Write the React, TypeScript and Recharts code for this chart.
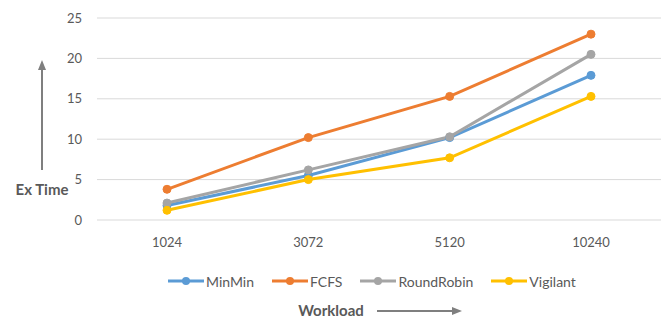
import { CartesianGrid, Legend, Line, LineChart, XAxis, YAxis } from "recharts";

const workloads = ["1024", "3072", "5120", "10240"];
const minMin = [1.8, 5.5, 10.2, 17.9];
const fcfs = [3.8, 10.2, 15.3, 23.0];
const roundRobin = [2.1, 6.2, 10.3, 20.5];
const vigilant = [1.2, 5.0, 7.7, 15.3];
const yTicks = [0, 5, 10, 15, 20, 25];

const SERIES = [
  { key: "MinMin", values: minMin, color: "#5b9bd5" },
  { key: "FCFS", values: fcfs, color: "#ed7d31" },
  { key: "RoundRobin", values: roundRobin, color: "#a5a5a5" },
  { key: "Vigilant", values: vigilant, color: "#ffc000" },
];

const FONT = "Lato, 'Open Sans', sans-serif";
const TEXT = "#595959";

const data = workloads.map((w, i) => {
  const row: Record<string, string | number> = { workload: w };
  SERIES.forEach((s) => {
    row[s.key] = s.values[i];
  });
  return row;
});

// legend sits a bit right of the chart centre, like the original
function LegendContent() {
  return (
    <div
      style={{
        display: "flex",
        gap: 18,
        fontFamily: FONT,
        fontSize: 14,
        color: TEXT,
        height: 20,
        alignItems: "center",
        paddingLeft: 168,
      }}
    >
      {SERIES.map((s) => (
        <div key={s.key} style={{ display: "flex", alignItems: "center" }}>
          <svg width={36} height={12} style={{ marginRight: 2 }}>
            <line x1={0} y1={6} x2={36} y2={6} stroke={s.color} strokeWidth={3} />
            <circle cx={18} cy={6} r={4} fill={s.color} />
          </svg>
          <span>{s.key}</span>
        </div>
      ))}
    </div>
  );
}

export default function App() {
  return (
    <div style={{ position: "absolute", left: 0, top: 0, width: 666, height: 322, background: "#fff" }}>
      <LineChart
        width={666}
        height={322}
        data={data}
        margin={{ top: 18, right: 5, left: 0, bottom: 31 }}
      >
        <CartesianGrid stroke="#d9d9d9" vertical={false} />
        <XAxis
          dataKey="workload"
          axisLine={false}
          tickLine={false}
          height={51}
          tickMargin={12}
          padding={{ left: 70, right: 70 }}
          tick={{ fill: TEXT, fontSize: 13, fontFamily: FONT }}
        />
        <YAxis
          domain={[0, 25]}
          ticks={yTicks}
          width={97}
          axisLine={false}
          tickLine={false}
          tickMargin={9}
          tick={{ fill: TEXT, fontSize: 13, fontFamily: FONT }}
        />
        <Legend verticalAlign="bottom" height={20} content={<LegendContent />} />
        {SERIES.map((s) => (
          <Line
            key={s.key}
            dataKey={s.key}
            stroke={s.color}
            strokeWidth={3}
            dot={{ r: 4, fill: s.color, stroke: s.color, strokeWidth: 1 }}
            activeDot={false}
            isAnimationActive={false}
          />
        ))}
      </LineChart>
      <svg
        width={666}
        height={322}
        style={{ position: "absolute", left: 0, top: 0, pointerEvents: "none" }}
      >
        <defs>
          <marker
            id="arrowHead"
            markerUnits="userSpaceOnUse"
            markerWidth={10}
            markerHeight={8}
            refX={2}
            refY={4}
            orient="auto"
          >
            <path d="M0,0 L10,4 L0,8 Z" fill="#7f7f7f" />
          </marker>
        </defs>
        <line x1={42} y1={170} x2={42} y2={68} stroke="#7f7f7f" strokeWidth={2} markerEnd="url(#arrowHead)" />
        <text x={42} y={195} textAnchor="middle" fontFamily={FONT} fontWeight={700} fontSize={15} fill={TEXT}>
          Ex Time
        </text>
        <text x={331} y={316} textAnchor="middle" fontFamily={FONT} fontWeight={700} fontSize={15} fill={TEXT}>
          Workload
        </text>
        <line x1={377} y1={311} x2={454} y2={311} stroke="#7f7f7f" strokeWidth={2} markerEnd="url(#arrowHead)" />
      </svg>
    </div>
  );
}
